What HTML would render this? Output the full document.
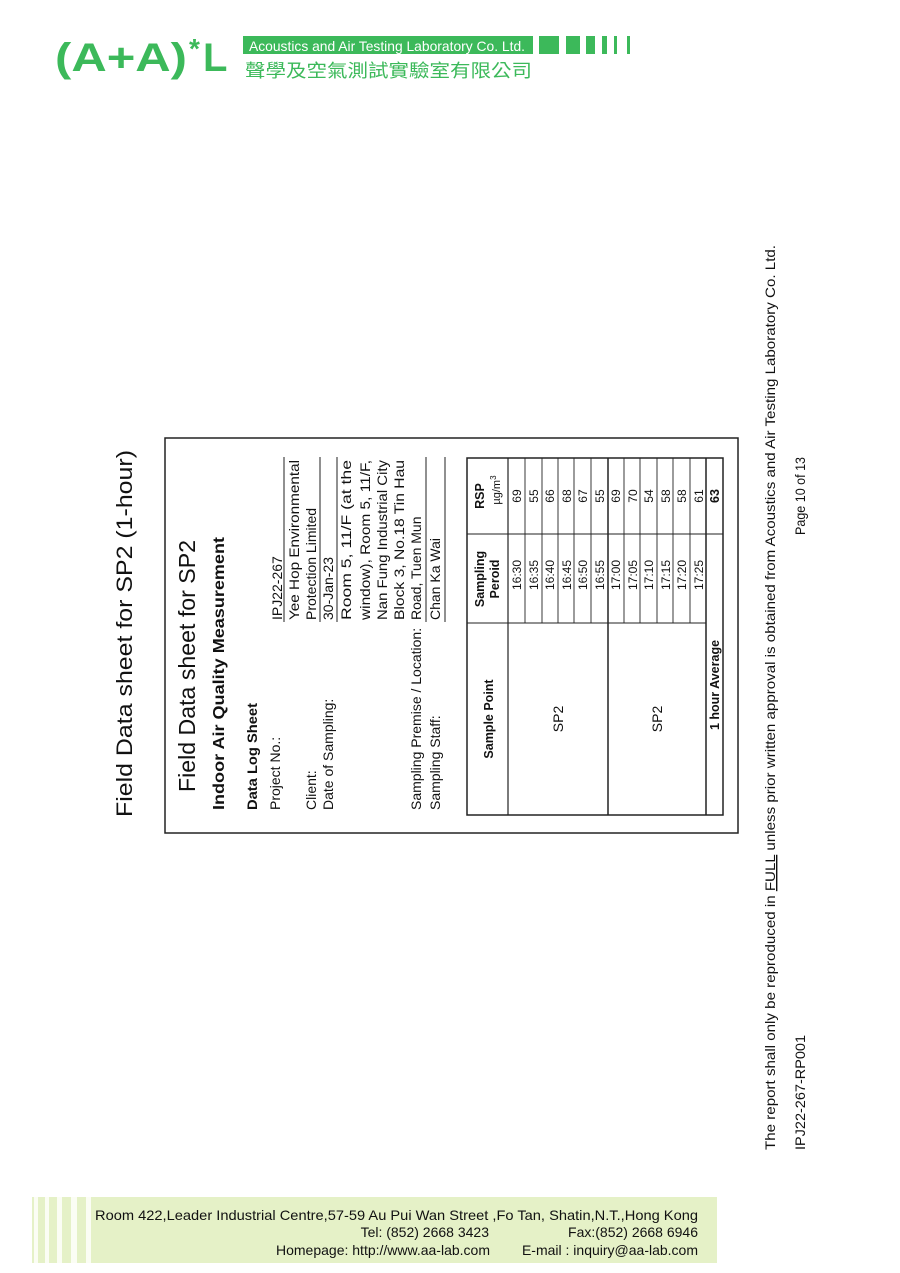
<!DOCTYPE html>
<html><head><meta charset="utf-8"><style>
html,body{margin:0;padding:0;background:#fff;}
svg{display:block;}
text{font-family:"Liberation Sans","Noto Sans CJK TC",sans-serif;}
</style></head><body>
<svg width="900" height="1273" viewBox="0 0 900 1273" xmlns="http://www.w3.org/2000/svg">
<rect width="900" height="1273" fill="#fff"/>
<!-- header -->
<g fill="#3cb95a">
<text x="55" y="71" font-size="40" font-weight="bold" textLength="132" lengthAdjust="spacingAndGlyphs">(A+A)</text>
<text x="189" y="58" font-size="28" font-weight="bold">*</text>
<text x="203" y="71" font-size="40" font-weight="bold">L</text>
<rect x="243" y="36" width="290" height="18"/>
<rect x="539" y="36" width="20" height="18"/>
<rect x="566" y="36" width="14" height="18"/>
<rect x="586" y="36" width="9" height="18"/>
<rect x="602" y="36" width="5" height="18"/>
<rect x="614" y="36" width="3" height="18"/>
<rect x="627" y="36" width="3" height="18"/>
<text x="245" y="77" font-size="18" textLength="287" lengthAdjust="spacingAndGlyphs">聲學及空氣測試實驗室有限公司</text>
</g>
<text x="249" y="51" font-size="14" fill="#fff" textLength="276" lengthAdjust="spacingAndGlyphs">Acoustics and Air Testing Laboratory Co. Ltd.</text>

<!-- rotated content -->
<g transform="translate(110,1160) rotate(-90)" fill="#111">
<text x="343" y="22" font-size="22" textLength="367" lengthAdjust="spacingAndGlyphs">Field Data sheet for SP2 (1-hour)</text>
<rect x="327" y="55" width="395" height="573" fill="none" stroke="#222" stroke-width="1.5"/>
<text x="368" y="85" font-size="23" textLength="252" lengthAdjust="spacingAndGlyphs">Field Data sheet for SP2</text>
<text x="350" y="114" font-size="16" font-weight="bold" textLength="273" lengthAdjust="spacingAndGlyphs">Indoor Air Quality Measurement</text>
<text x="350" y="147" font-size="13.5" font-weight="bold" textLength="107" lengthAdjust="spacingAndGlyphs">Data Log Sheet</text>
<g font-size="14">
<text x="350" y="170">Project No.:</text>
<text x="350" y="206">Client:</text>
<text x="350" y="223">Date of Sampling:</text>
<text x="350" y="311">Sampling Premise / Location:</text>
<text x="350" y="330">Sampling Staff:</text>
<text x="540" y="172">IPJ22-267</text>
<text x="540" y="189" textLength="160" lengthAdjust="spacingAndGlyphs">Yee Hop Environmental</text>
<text x="540" y="206">Protection Limited</text>
<text x="540" y="223">30-Jan-23</text>
<text x="540" y="241" textLength="160" lengthAdjust="spacingAndGlyphs">Room 5, 11/F (at the</text>
<text x="540" y="260" textLength="160" lengthAdjust="spacingAndGlyphs">window), Room 5, 11/F,</text>
<text x="540" y="277" textLength="160" lengthAdjust="spacingAndGlyphs">Nan Fung Industrial City</text>
<text x="540" y="294" textLength="160" lengthAdjust="spacingAndGlyphs">Block 3, No.18 Tin Hau</text>
<text x="540" y="311">Road, Tuen Mun</text>
<text x="540" y="330">Chan Ka Wai</text>
</g>
<g stroke="#222" stroke-width="1">
<line x1="538" y1="174" x2="703" y2="174"/>
<line x1="538" y1="210" x2="703" y2="210"/>
<line x1="538" y1="227" x2="703" y2="227"/>
<line x1="538" y1="316" x2="703" y2="316"/>
<line x1="538" y1="335" x2="703" y2="335"/>
</g>
<!-- table -->
<g stroke="#222" fill="none">
<rect x="345" y="357" width="357" height="256" stroke-width="1.5"/>
<line x1="537" y1="357" x2="537" y2="596" stroke-width="1"/>
<line x1="626" y1="357" x2="626" y2="613" stroke-width="1"/>
<line x1="345" y1="398" x2="702" y2="398" stroke-width="1.2"/>
<line x1="345" y1="498" x2="702" y2="498" stroke-width="1.5"/>
<line x1="345" y1="596" x2="702" y2="596" stroke-width="1.5"/>
<g stroke-width="0.9">
<line x1="537" y1="415" x2="702" y2="415"/>
<line x1="537" y1="432" x2="702" y2="432"/>
<line x1="537" y1="448" x2="702" y2="448"/>
<line x1="537" y1="464" x2="702" y2="464"/>
<line x1="537" y1="481" x2="702" y2="481"/>
<line x1="537" y1="514" x2="702" y2="514"/>
<line x1="537" y1="530" x2="702" y2="530"/>
<line x1="537" y1="547" x2="702" y2="547"/>
<line x1="537" y1="563" x2="702" y2="563"/>
<line x1="537" y1="580" x2="702" y2="580"/>
</g>
</g>
<g font-size="12.5" font-weight="bold" text-anchor="middle">
<text x="441" y="383">Sample Point</text>
<text x="581" y="374">Sampling</text>
<text x="581" y="389">Peroid</text>
<text x="664" y="374">RSP</text>
<text x="670" y="390" font-weight="normal" font-size="11">µg/m<tspan font-size="8" dy="-4">3</tspan></text>
<text x="475" y="609">1 hour Average</text>
<text x="664" y="609">63</text>
</g>
<g font-size="14" text-anchor="middle">
<text x="441" y="453">SP2</text>
<text x="441" y="552">SP2</text>
</g>
<g font-size="12" text-anchor="middle">
<text x="585" y="411">16:30</text><text x="664" y="411">69</text>
<text x="585" y="428">16:35</text><text x="664" y="428">55</text>
<text x="585" y="444">16:40</text><text x="664" y="444">66</text>
<text x="585" y="461">16:45</text><text x="664" y="461">68</text>
<text x="585" y="477">16:50</text><text x="664" y="477">67</text>
<text x="585" y="494">16:55</text><text x="664" y="494">55</text>
<text x="585" y="510">17:00</text><text x="664" y="510">69</text>
<text x="585" y="527">17:05</text><text x="664" y="527">70</text>
<text x="585" y="543">17:10</text><text x="664" y="543">54</text>
<text x="585" y="560">17:15</text><text x="664" y="560">58</text>
<text x="585" y="576">17:20</text><text x="664" y="576">58</text>
<text x="585" y="593">17:25</text><text x="664" y="593">61</text>
</g>
<!-- disclaimer -->
<g font-size="14">
<text x="10" y="665" textLength="905" lengthAdjust="spacingAndGlyphs">The report shall only be reproduced in <tspan text-decoration="underline">FULL</tspan> unless prior written approval is obtained from Acoustics and Air Testing Laboratory Co. Ltd.</text>
<text x="625" y="695" textLength="78" lengthAdjust="spacingAndGlyphs">Page 10 of 13</text>
<text x="10" y="695" textLength="115" lengthAdjust="spacingAndGlyphs">IPJ22-267-RP001</text>
</g>
</g>

<!-- footer -->
<rect x="32" y="1197" width="685" height="66" fill="#e5f1c7"/>
<g fill="#fbfdf4">
<rect x="34" y="1197" width="4" height="66"/>
<rect x="45" y="1197" width="4" height="66"/>
<rect x="57" y="1197" width="5" height="66"/>
<rect x="71" y="1197" width="6" height="66"/>
<rect x="86" y="1197" width="5" height="66"/>
</g>
<g font-size="14" fill="#111">
<text x="95" y="1220" textLength="603" lengthAdjust="spacingAndGlyphs">Room 422,Leader Industrial Centre,57-59 Au Pui Wan Street ,Fo Tan, Shatin,N.T.,Hong Kong</text>
<text x="489" y="1237" text-anchor="end">Tel: (852) 2668 3423</text>
<text x="698" y="1237" text-anchor="end">Fax:(852) 2668 6946</text>
<text x="490" y="1255" text-anchor="end">Homepage: http://www.aa-lab.com</text>
<text x="698" y="1255" text-anchor="end">E-mail : inquiry@aa-lab.com</text>
</g>
</svg>
</body></html>
